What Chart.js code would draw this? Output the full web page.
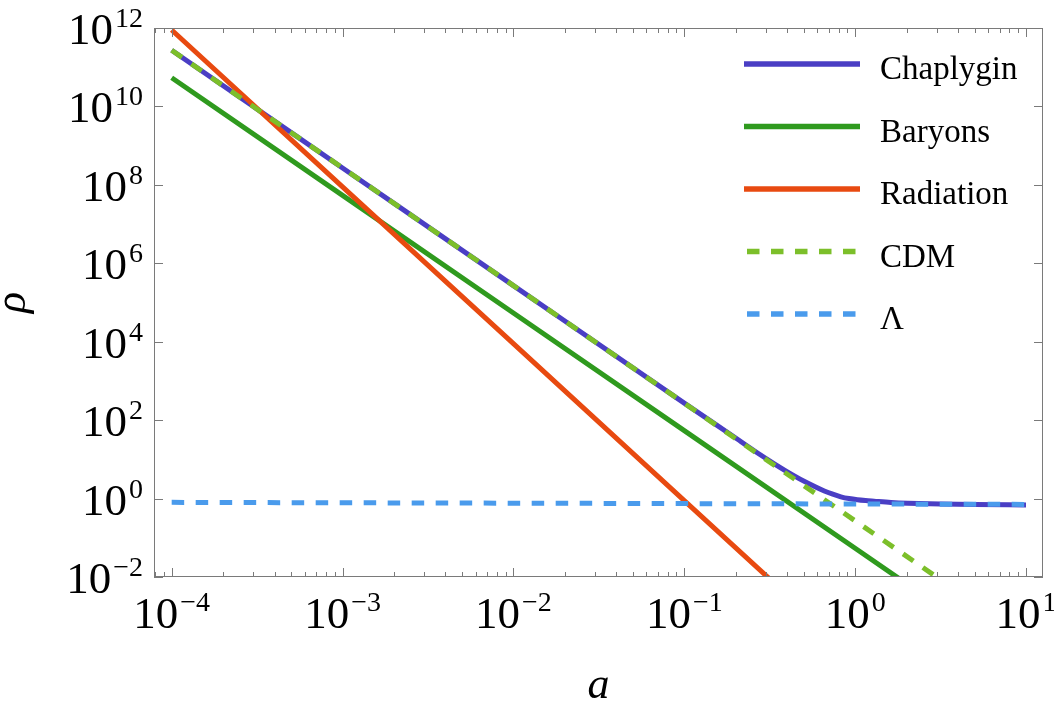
<!DOCTYPE html>
<html lang="en">
<head>
  <meta charset="utf-8">
  <title>rho vs a</title>
  <script src="https://cdn.jsdelivr.net/npm/chart.js@4.4.0/dist/chart.umd.min.js"></script>
  <style>
    body { margin: 0; background: #fff; }
    #wrap { position: relative; width: 1054px; height: 702px; }
  </style>
</head>
<body>
<div id="wrap"><canvas id="myChart"></canvas></div>

<script>
  // values (log-log)
  const aPow = [1e-4, 1e-3, 1e-2, 1e-1, 1, 10];
  const rhoBaryons = [5.4e10, 5.4e7, 5.4e4, 54, 0.054, 5.4e-5];
  const rhoRadiation = [8.9e11, 8.9e7, 8.9e3, 0.89, 8.9e-5, 8.9e-9];
  const rhoCDM = [2.7e11, 2.7e8, 2.7e5, 270, 0.27, 2.7e-4];

  const aChap = [1e-4, 1e-3, 1e-2, 0.1, 0.2, 0.27, 0.34, 0.42, 0.53, 0.66, 0.74, 0.825, 0.92,
                 1.03, 1.15, 1.29, 1.62, 2.03, 3.17, 5, 10];
  const rhoChap = [2.7e11, 2.7e8, 2.7e5, 272, 35, 14.3, 7.5, 4.28, 2.45, 1.56, 1.29, 1.11, 1.0,
                   0.93, 0.887, 0.855, 0.798, 0.763, 0.723, 0.703, 0.689];

  const aLambda = [1e-4, 10];
  const rhoLambda = [0.80, 0.71];

  const xTickExps = [-4, -3, -2, -1, 0, 1];
  const yTickExps = [-2, 0, 2, 4, 6, 8, 10, 12];
  const legendNames = ['Chaplygin', 'Baryons', 'Radiation', 'CDM', '\u039B'];

  const colChap = '#4a3ec4';
  const colBar = '#2f9a1e';
  const colRad = '#e84a10';
  const colCDM = '#7cbf2a';
  const colLam = '#4a9bec';

  function pts(xs, ys) {
    return xs.map((v, i) => ({ x: v, y: ys[i] }));
  }

  const FONT = '"Liberation Serif", "DejaVu Serif", serif';

  function drawPow(ctx, exp, x, y, align) {
    const expText = exp < 0 ? '\u2212' + (-exp) : String(exp);
    ctx.font = '45px ' + FONT;
    const w1 = ctx.measureText('10').width;
    ctx.font = '28px ' + FONT;
    const w2 = ctx.measureText(expText).width;
    const gap = 2;
    const total = w1 + gap + w2;
    const left = align === 'center' ? x - total / 2 : x - total;
    ctx.textAlign = 'left';
    ctx.textBaseline = 'alphabetic';
    ctx.font = '45px ' + FONT;
    ctx.fillText('10', left, y);
    ctx.font = '28px ' + FONT;
    ctx.fillText(expText, left + w1 + gap, y - 17);
  }

  const framePlugin = {
    id: 'framePlugin',
    afterDatasetsDraw(chart) {
      const { ctx, chartArea: ca, scales: { x, y } } = chart;
      ctx.save();
      ctx.strokeStyle = '#7a7a7a';
      ctx.lineWidth = 1;
      ctx.strokeRect(ca.left + 0.5, ca.top + 0.5, ca.right - ca.left - 1, ca.bottom - ca.top - 1);

      // x ticks, inward, top and bottom
      ctx.beginPath();
      for (let e = -5; e <= 1; e++) {
        for (let m = 1; m <= 9; m++) {
          const v = m * Math.pow(10, e);
          if (v < x.min || v > x.max) continue;
          const px = Math.round(x.getPixelForValue(v)) + 0.5;
          const len = m === 1 ? 9 : 5;
          ctx.moveTo(px, ca.bottom);
          ctx.lineTo(px, ca.bottom - len);
          ctx.moveTo(px, ca.top);
          ctx.lineTo(px, ca.top + len);
        }
      }
      // y ticks, left and right
      yTickExps.forEach(e => {
        const py = Math.round(y.getPixelForValue(Math.pow(10, e))) + 0.5;
        ctx.moveTo(ca.left, py);
        ctx.lineTo(ca.left + 9, py);
        ctx.moveTo(ca.right, py);
        ctx.lineTo(ca.right - 9, py);
      });
      ctx.stroke();
      ctx.restore();
    },
    afterDraw(chart) {
      const { ctx, chartArea: ca, scales: { x, y } } = chart;
      ctx.save();
      ctx.fillStyle = '#000';

      xTickExps.forEach(e => {
        drawPow(ctx, e, x.getPixelForValue(Math.pow(10, e)), ca.bottom + 51, 'center');
      });
      yTickExps.forEach(e => {
        drawPow(ctx, e, ca.left - 11, y.getPixelForValue(Math.pow(10, e)) + 16, 'right');
      });

      // axis titles
      ctx.font = 'italic 44px ' + FONT;
      ctx.textAlign = 'center';
      ctx.textBaseline = 'alphabetic';
      ctx.fillText('a', (ca.left + ca.right) / 2, 698);
      ctx.save();
      ctx.translate(25, (ca.top + ca.bottom) / 2);
      ctx.rotate(-Math.PI / 2);
      ctx.fillText('\u03C1', 0, 0);
      ctx.restore();

      // legend
      const sets = chart.data.datasets;
      legendNames.forEach((name, i) => {
        const ds = sets[i];
        const ly = ca.top + 36 + i * 62.5;
        ctx.save();
        ctx.strokeStyle = ds.borderColor;
        ctx.lineWidth = 5.5;
        ctx.setLineDash(ds.borderDash || []);
        ctx.beginPath();
        if (ds.borderDash) {
          ctx.moveTo(ca.left + 593, ly);
          ctx.lineTo(ca.left + 702, ly);
        } else {
          ctx.moveTo(ca.left + 590, ly);
          ctx.lineTo(ca.left + 706, ly);
        }
        ctx.stroke();
        ctx.restore();
        ctx.font = '33px ' + FONT;
        ctx.textAlign = 'left';
        ctx.fillStyle = '#000';
        ctx.fillText(name, ca.left + 726, ly + 15);
      });
      ctx.restore();
    }
  };

  const lineBase = { pointRadius: 0, borderWidth: 5, fill: false, clip: 0 };

  new Chart('myChart', {
    type: 'line',
    data: {
      datasets: [
        Object.assign({}, lineBase, { label: 'Chaplygin', data: pts(aChap, rhoChap), borderColor: colChap, cubicInterpolationMode: 'monotone', order: 5 }),
        Object.assign({}, lineBase, { label: 'Baryons', data: pts(aPow, rhoBaryons), borderColor: colBar, order: 4 }),
        Object.assign({}, lineBase, { label: 'Radiation', data: pts(aPow, rhoRadiation), borderColor: colRad, order: 3 }),
        Object.assign({}, lineBase, { label: 'CDM', data: pts(aPow, rhoCDM), borderColor: colCDM, borderDash: [12.5, 11.5], borderCapStyle: 'butt', order: 2 }),
        Object.assign({}, lineBase, { label: 'Lambda', data: pts(aLambda, rhoLambda), borderColor: colLam, borderDash: [12.5, 11.5], borderCapStyle: 'butt', order: 1 })
      ]
    },
    options: {
      responsive: true,
      maintainAspectRatio: false,
      animation: false,
      layout: { padding: { left: 154, right: 11, top: 28, bottom: 125 } },
      plugins: { legend: { display: false }, tooltip: { enabled: false } },
      scales: {
        x: { type: 'logarithmic', display: false, min: Math.pow(10, -4.1035), max: Math.pow(10, 1.0995) },
        y: { type: 'logarithmic', display: false, min: 1e-2, max: 1e12 }
      }
    },
    plugins: [framePlugin]
  });
</script>
</body>
</html>
